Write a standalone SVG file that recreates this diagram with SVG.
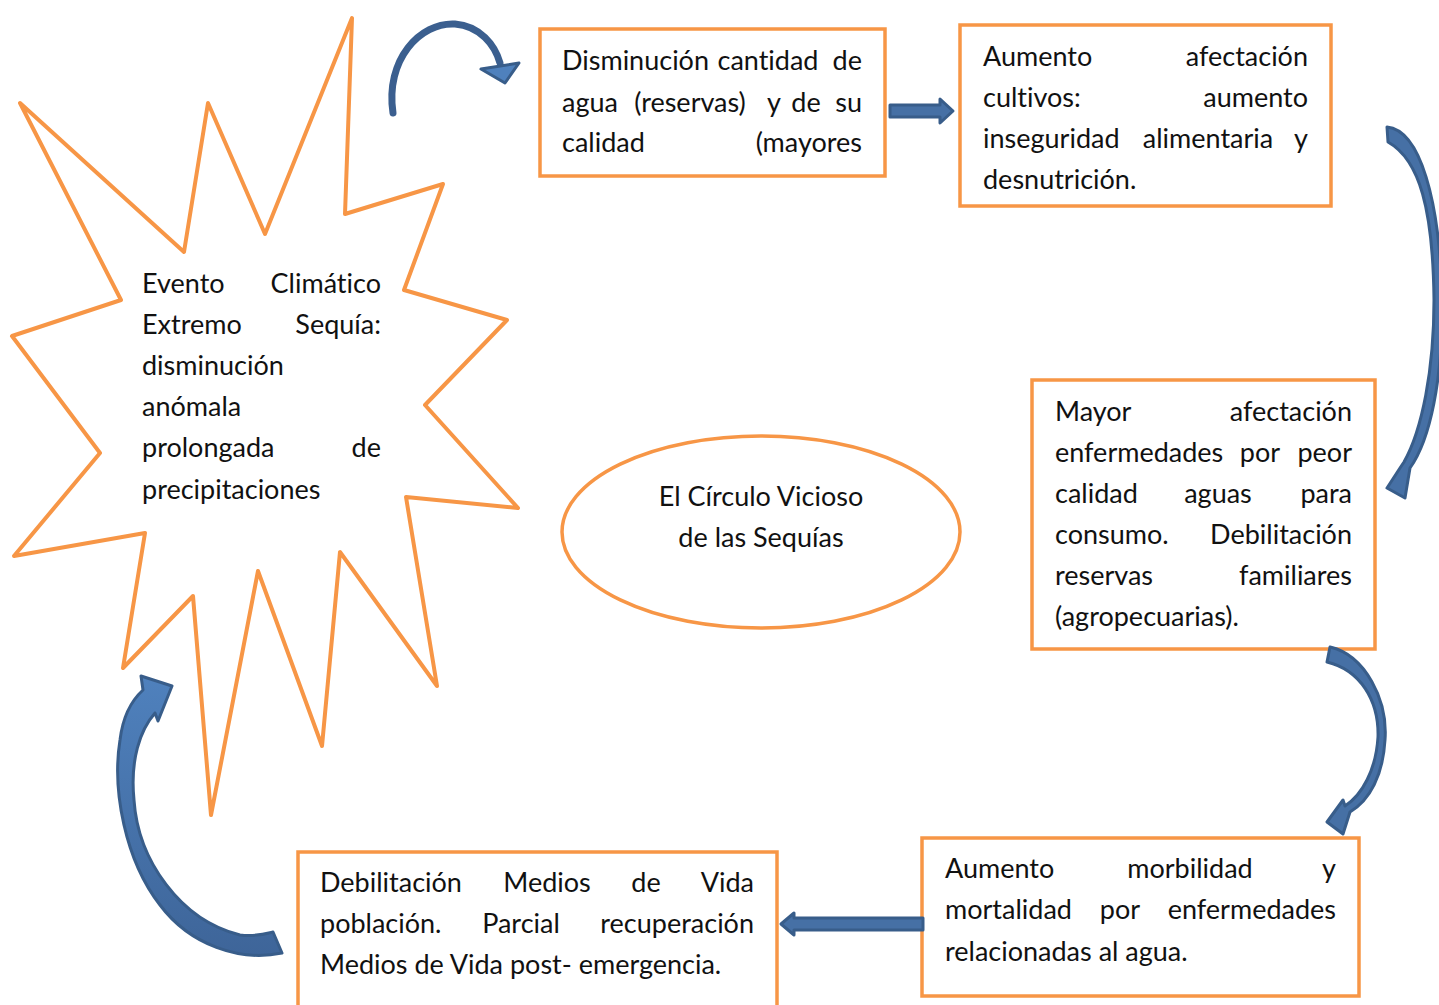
<svg xmlns="http://www.w3.org/2000/svg" width="1439" height="1005" viewBox="0 0 1439 1005">
<style>
.box{fill:#fff;stroke:#F79646;stroke-width:3.5}
.star{fill:#fff;stroke:#F79646;stroke-width:4;stroke-linejoin:round}
text{font-family:Lato,"Noto Sans","Liberation Sans",sans-serif;font-size:27px;fill:#111;font-variant-ligatures:none;font-feature-settings:"liga" 0}
.e{text-anchor:end}
.m{text-anchor:middle}
.arr{fill:#4F81BD;stroke:#385D8A;stroke-width:3;stroke-linejoin:round}
.arrd{fill:#4670A5;stroke:#385D8A;stroke-width:3;stroke-linejoin:round}
</style>
<defs>
<linearGradient id="g6" x1="0" y1="0" x2="0" y2="1">
<stop offset="0" stop-color="#4F81BD"/>
<stop offset="1" stop-color="#3E6599"/>
</linearGradient>
</defs>
<rect width="1439" height="1005" fill="#fff"/>

<g id="star">
<polygon class="star" points="20,103 184,252 208,103 265,234 352,18 345,214 443,184 404,290 507,320 425,405 518,508 406,497 437,686 340,552 322,746 258,571 211,815 193,596 123,668 145,533 14,556 100,453 12,336 121,300"/>
<text x="142" y="293">Evento</text><text class="e" x="381" y="293">Climático</text>
<text x="142" y="334">Extremo</text><text class="e" x="381" y="334">Sequía:</text>
<text x="142" y="375">disminución</text>
<text x="142" y="416">anómala</text>
<text x="142" y="457">prolongada</text><text class="e" x="381" y="457">de</text>
<text x="142" y="499">precipitaciones</text>
</g>

<g id="box1">
<rect class="box" x="540" y="29" width="345" height="147"/>
<text x="562" y="70">Disminución</text><text class="m" x="768" y="70">cantidad</text><text class="e" x="862" y="70">de</text>
<text x="562" y="112">agua</text><text class="m" x="690" y="112">(reservas)</text><text class="m" x="774" y="112">y</text><text class="m" x="806" y="112">de</text><text class="e" x="862" y="112">su</text>
<text x="562" y="152">calidad</text><text class="e" x="862" y="152">(mayores</text>
</g>

<g id="box2">
<rect class="box" x="960" y="25" width="371" height="181"/>
<text x="983" y="66">Aumento</text><text class="e" x="1308" y="66">afectación</text>
<text x="983" y="107">cultivos:</text><text class="e" x="1308" y="107">aumento</text>
<text x="983" y="148">inseguridad</text><text class="m" x="1208" y="148">alimentaria</text><text class="e" x="1308" y="148">y</text>
<text x="983" y="189">desnutrición.</text>
</g>

<g id="box3">
<rect class="box" x="1032" y="380" width="343" height="269"/>
<text x="1055" y="421">Mayor</text><text class="e" x="1352" y="421">afectación</text>
<text x="1055" y="462">enfermedades</text><text class="m" x="1260" y="462">por</text><text class="e" x="1352" y="462">peor</text>
<text x="1055" y="503">calidad</text><text class="m" x="1218" y="503">aguas</text><text class="e" x="1352" y="503">para</text>
<text x="1055" y="544">consumo.</text><text class="e" x="1352" y="544">Debilitación</text>
<text x="1055" y="585">reservas</text><text class="e" x="1352" y="585">familiares</text>
<text x="1055" y="626">(agropecuarias).</text>
</g>

<g id="box4">
<rect class="box" x="922" y="838" width="437" height="158"/>
<text x="945" y="878">Aumento</text><text class="m" x="1190" y="878">morbilidad</text><text class="e" x="1336" y="878">y</text>
<text x="945" y="919">mortalidad</text><text class="m" x="1120" y="919">por</text><text class="e" x="1336" y="919">enfermedades</text>
<text x="945" y="961">relacionadas al agua.</text>
</g>

<g id="box5">
<rect class="box" x="298" y="852" width="479" height="170"/>
<text x="320" y="892">Debilitación</text><text class="m" x="547" y="892">Medios</text><text class="m" x="646" y="892">de</text><text class="e" x="754" y="892">Vida</text>
<text x="320" y="933">población.</text><text class="m" x="521" y="933">Parcial</text><text class="e" x="754" y="933">recuperación</text>
<text x="320" y="974">Medios de Vida post- emergencia.</text>
</g>

<g id="center">
<ellipse cx="761" cy="532" rx="199" ry="96" fill="#fff" stroke="#F79646" stroke-width="3.5"/>
<text class="m" x="761" y="506">El Círculo Vicioso</text>
<text class="m" x="761" y="547">de las Sequías</text>
</g>

<g id="connectors">
<path d="M393,113 C385,60 420,22 455,24 C480,26 495,45 500,63" fill="none" stroke="#3B5F8F" stroke-width="7" stroke-linecap="round"/>
<polygon class="arr" points="481,69 519,63 505,83"/>
<polygon class="arrd" points="890,105 940,105 940,99 953,111 940,123 940,117 890,117"/>
<polygon class="arrd" points="781,924 794,913 794,918 923,918 923,930 794,930 794,935"/>
<path class="arrd" d="M1387,127 C1420,130 1440,200 1442,300 C1443,380 1430,440 1410,468 L1405,498 L1387,488 L1400,468 L1404,462 C1422,430 1434,370 1434,300 C1433,210 1420,160 1388,142 Z"/>
<path class="arrd" d="M1330,647 C1365,655 1388,700 1385,740 C1383,775 1370,800 1350,812 L1343,834 L1327,822 L1343,800 L1345,806 C1362,795 1376,770 1378,737 C1379,700 1360,670 1327,662 Z"/>
<path d="M282,953 C240,962 190,945 160,905 C125,860 112,790 120,740 C123,715 132,700 143,690 L141,676 L172,686 L158,721 L155,713 C140,730 130,760 134,800 C138,860 180,920 240,935 C255,937 265,934 273,932 Z" fill="url(#g6)" stroke="#385D8A" stroke-width="3" stroke-linejoin="round"/>
</g>
</svg>
